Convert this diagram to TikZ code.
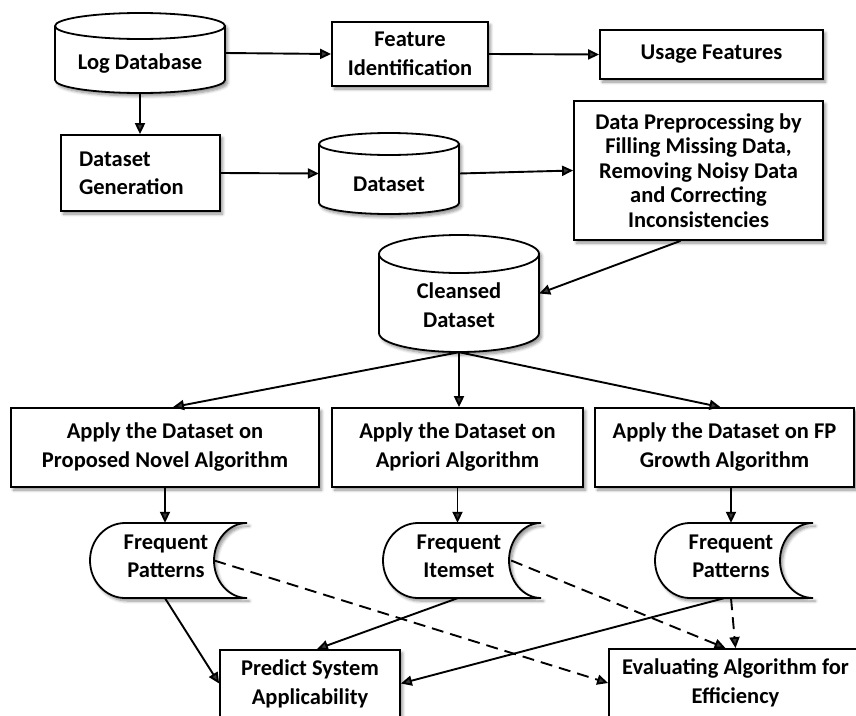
\documentclass[tikz,border=0pt]{standalone}
\usepackage{fontspec}
\setmainfont{Carlito}
\usetikzlibrary{arrows.meta,shadows,shadows.blur,calc}
\begin{document}
\begin{tikzpicture}[x=1pt,y=-1pt,
  every node/.style={font=\bfseries\fontsize{22.5}{29}\selectfont},
  shad/.style={blur shadow={shadow xshift=2.5pt, shadow yshift=-3pt, shadow blur radius=3pt, shadow blur steps=6, shadow opacity=45}},
  box/.style={draw, line width=1.8pt, fill=white, shad, inner sep=0pt, align=center},
  shp/.style={draw, line width=1.8pt, fill=white, shad},
  ghost/.style={inner sep=0pt, draw=none},
  lbl/.style={inner sep=0pt, align=center},
  arr/.style={line width=1.9pt, -{Triangle[length=11pt,width=10pt]}},
  darr/.style={arr, dash pattern=on 12pt off 7pt},
]
\clip (0,0) rectangle (856,715);
\useasboundingbox (0,0) rectangle (856,715);

% ---- cylinders ----
\path[shp] (55,26) -- (55,80) arc[start angle=180,end angle=360,x radius=85pt,y radius=13pt] -- (225,26) arc[start angle=0,end angle=180,x radius=85pt,y radius=13pt] -- cycle;
\draw[line width=1.8pt] (55,26) arc[start angle=180,end angle=360,x radius=85pt,y radius=13pt];
\node[ghost, minimum width=170pt, minimum height=80pt] (logdb) at (140,53) {};
\node[lbl] (logdbt) at (140,64) {Log Database};

\path[shp] (319,144) -- (319,203) arc[start angle=180,end angle=360,x radius=70pt,y radius=11pt] -- (459,144) arc[start angle=0,end angle=180,x radius=70pt,y radius=11pt] -- cycle;
\draw[line width=1.8pt] (319,144) arc[start angle=180,end angle=360,x radius=70pt,y radius=11pt];
\node[ghost, minimum width=140pt, minimum height=81pt] (dataset) at (389,173.5) {};
\node[lbl] (datasett) at (389,184) {Dataset};

\path[shp] (379,254) -- (379,333) arc[start angle=180,end angle=360,x radius=80pt,y radius=19pt] -- (539,254) arc[start angle=0,end angle=180,x radius=80pt,y radius=19pt] -- cycle;
\draw[line width=1.8pt] (379,254) arc[start angle=180,end angle=360,x radius=80pt,y radius=19pt];
\node[ghost, minimum width=160pt, minimum height=117pt] (cleansed) at (459,293.5) {};
\node[lbl] (cleansedt) at (459,305.5) {Cleansed\\Dataset};

% ---- boxes ----
\node[box, minimum width=156pt, minimum height=64pt] (feat) at (410,54) {Feature\\Identification};
\node[box, minimum width=223pt, minimum height=49pt] (usage) at (711.5,54.5) {Usage Features};
\node[box, minimum width=249pt, minimum height=139pt, font=\bfseries\fontsize{22.5}{24.6}\selectfont] (prep) at (698.5,170.5) {Data Preprocessing by\\Filling Missing Data,\\Removing Noisy Data\\and Correcting\\Inconsistencies};
\node[box, minimum height=76pt, text width=123pt, align=left, inner xsep=18pt, font=\bfseries\fontsize{22.5}{28}\selectfont] (dsgen) at (140.5,173) {Dataset\\Generation};

\node[box, minimum width=308pt, minimum height=79pt] (alg1) at (165,447.5) {Apply the Dataset on\\Proposed Novel Algorithm};
\node[box, minimum width=251pt, minimum height=79pt] (alg2) at (457.5,447.5) {Apply the Dataset on\\Apriori Algorithm};
\node[box, minimum width=259pt, minimum height=79pt] (alg3) at (724.5,447.5) {Apply the Dataset on FP\\Growth Algorithm};

% ---- stored data shapes ----
\path[shp] (125,523) -- (247,523) arc[start angle=90,end angle=270,x radius=33pt,y radius=37.5pt] -- (125,598) arc[start angle=270,end angle=90,x radius=35pt,y radius=37.5pt] -- cycle;
\node[ghost, minimum width=157pt, minimum height=75pt] (f1) at (168.5,560.5) {};
\node[lbl, font=\bfseries\fontsize{22.5}{28}\selectfont] (f1t) at (166,556) {Frequent\\Patterns};

\path[shp] (418,523) -- (541,523) arc[start angle=90,end angle=270,x radius=32pt,y radius=37.5pt] -- (418,598) arc[start angle=270,end angle=90,x radius=35pt,y radius=37.5pt] -- cycle;
\node[ghost, minimum width=158pt, minimum height=75pt] (f2) at (462,560.5) {};
\node[lbl, font=\bfseries\fontsize{22.5}{28}\selectfont] (f2t) at (459,556) {Frequent\\Itemset};

\path[shp] (690,523) -- (813,523) arc[start angle=90,end angle=270,x radius=33pt,y radius=37.5pt] -- (690,598) arc[start angle=270,end angle=90,x radius=35pt,y radius=37.5pt] -- cycle;
\node[ghost, minimum width=158pt, minimum height=75pt] (f3) at (734,560.5) {};
\node[lbl, font=\bfseries\fontsize{22.5}{28}\selectfont] (f3t) at (731,556) {Frequent\\Patterns};

\node[box, minimum width=180pt, minimum height=67pt] (pred) at (310,683.5) {Predict System\\Applicability};
\node[box, minimum width=253pt, minimum height=68pt] (eval) at (735.5,683) {Evaluating Algorithm for\\Efficiency};

% ---- connectors ----
\coordinate (c3) at ([xshift=6.5pt]alg3.south);
\draw[arr] (logdb.east) -- (feat.west);
\draw[arr] (feat.east) -- (usage.west);
\draw[arr] (logdb.south) -- (logdb.south |- dsgen.north);
\draw[arr] (dsgen.east) -- (dataset.west);
\draw[arr] (dataset.east) -- (prep.west);
\draw[arr] ([xshift=-18pt]prep.south) -- (cleansed.east);
\draw[arr] (cleansed.south) -- ([xshift=8pt]alg1.north);
\draw[arr] (cleansed.south) -- (cleansed.south |- alg2.north);
\draw[arr] (cleansed.south) -- ([xshift=-4pt]alg3.north);
\draw[arr] (alg1.south) -- (alg1.south |- f1.north);
\draw[arr] (alg2.south) -- (alg2.south |- f2.north);
\draw[arr] (c3) -- (c3 |- f3.north);
\draw[arr] (alg1.south |- f1.south) -- (pred.west);
\draw[arr] (alg2.south |- f2.south) -- ([xshift=7pt]pred.north);
\draw[arr] ([xshift=-10pt]f3.south) -- (pred.east);
\draw[darr] ([xshift=-33pt]f1.east) -- (eval.west);
\draw[darr] ([xshift=-30pt]f2.east) -- ([xshift=-10pt]eval.north);
\draw[darr] (c3 |- f3.south) -- (eval.north);
\end{tikzpicture}
\end{document}
